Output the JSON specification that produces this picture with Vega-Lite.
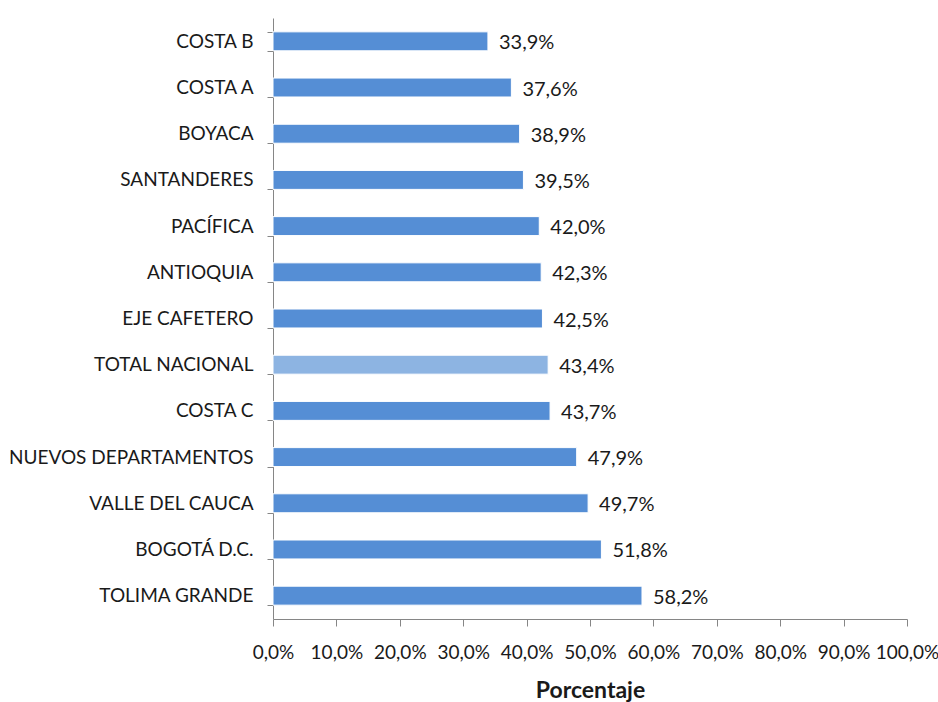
{
  "$schema": "https://vega.github.io/schema/vega-lite/v6.json",
  "width": 634,
  "height": 601,
  "autosize": "none",
  "padding": {"left": 273, "top": 18, "right": 31, "bottom": 83},
  "background": "white",
  "config": {
    "view": {"stroke": null},
    "locale": {"number": {"decimal": ",", "thousands": ".", "grouping": [3], "currency": ["", " €"]}},
    "font": "Lato"
  },
  "data": {"values": [
    {"region": "COSTA B", "valor": 0.339, "tipo": "region"},
    {"region": "COSTA A", "valor": 0.376, "tipo": "region"},
    {"region": "BOYACA", "valor": 0.389, "tipo": "region"},
    {"region": "SANTANDERES", "valor": 0.395, "tipo": "region"},
    {"region": "PACÍFICA", "valor": 0.420, "tipo": "region"},
    {"region": "ANTIOQUIA ", "valor": 0.423, "tipo": "region"},
    {"region": "EJE CAFETERO", "valor": 0.425, "tipo": "region"},
    {"region": "TOTAL NACIONAL", "valor": 0.434, "tipo": "total"},
    {"region": "COSTA C", "valor": 0.437, "tipo": "region"},
    {"region": "NUEVOS DEPARTAMENTOS", "valor": 0.479, "tipo": "region"},
    {"region": "VALLE DEL CAUCA", "valor": 0.497, "tipo": "region"},
    {"region": "BOGOTÁ D.C.", "valor": 0.518, "tipo": "region"},
    {"region": "TOLIMA GRANDE", "valor": 0.582, "tipo": "region"}
  ]},
  "encoding": {
    "y": {
      "field": "region", "type": "nominal", "sort": null, "title": null,
      "scale": {"paddingInner": 0.59, "paddingOuter": 0.3},
      "axis": {
        "domainColor": "#868686", "tickColor": "#868686", "tickSize": 6, "tickBand": "extent",
        "labelFontSize": 19, "labelColor": "#1a1a1a", "labelPadding": 14, "labelLimit": 300
      }
    },
    "x": {
      "field": "valor", "type": "quantitative", "title": "Porcentaje",
      "scale": {"domain": [0, 1], "nice": false},
      "axis": {
        "format": ".1%", "values": [0, 0.1, 0.2, 0.3, 0.4, 0.5, 0.6, 0.7, 0.8, 0.9, 1.0],
        "labelOverlap": false, "labelFlush": false,
        "grid": false, "domainColor": "#868686", "tickColor": "#868686", "tickSize": 7,
        "labelFontSize": 19, "labelColor": "#1a1a1a", "labelPadding": 17,
        "titleFontSize": 23, "titleFontWeight": "bold", "titleColor": "#1a1a1a", "titlePadding": 17
      }
    }
  },
  "layer": [
    {
      "mark": {"type": "bar", "stroke": "white", "strokeWidth": 1},
      "encoding": {
        "color": {
          "field": "tipo", "type": "nominal", "legend": null,
          "scale": {"domain": ["region", "total"], "range": ["#558ED5", "#8DB4E2"]}
        }
      }
    },
    {
      "mark": {"type": "text", "align": "left", "baseline": "middle", "dx": 11, "dy": 2, "fontSize": 20, "color": "#1a1a1a"},
      "encoding": {"text": {"field": "valor", "type": "quantitative", "format": ".1%"}}
    }
  ]
}
